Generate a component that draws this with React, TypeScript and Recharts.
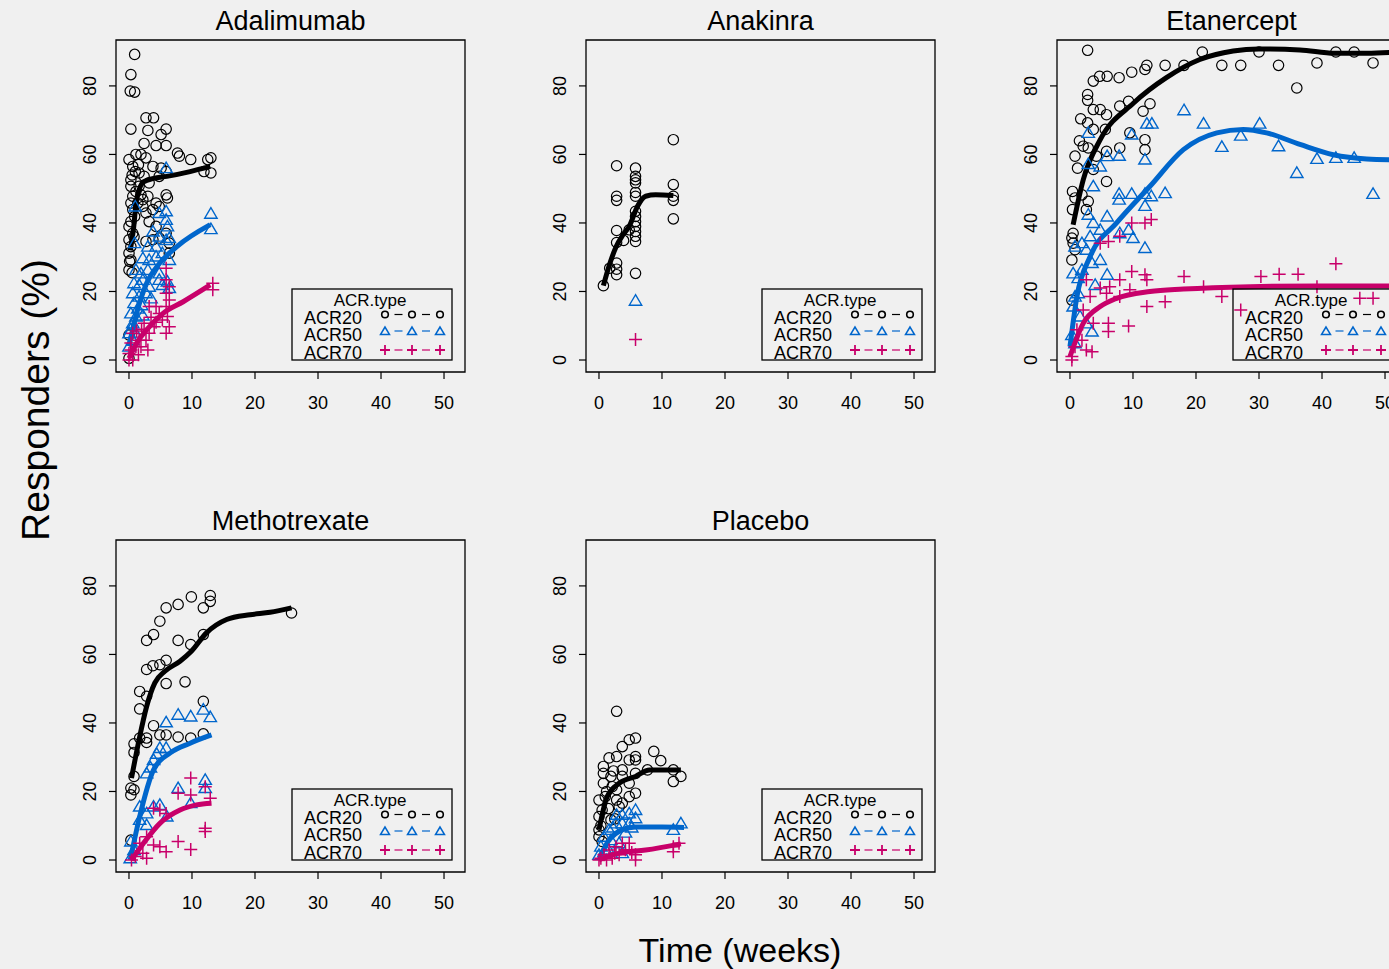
import React from "react";
import { ScatterChart, Scatter, XAxis, YAxis, ReferenceArea } from "recharts";

type Pt = [number, number];

const X_TICKS = [0, 10, 20, 30, 40, 50];
const Y_TICKS = [0, 20, 40, 60, 80];
const X_DOMAIN: [number, number] = [-2.06, 53.33];
const Y_DOMAIN: [number, number] = [-3.5, 93.4];
const SERIES_NAMES = ["ACR20", "ACR50", "ACR70"];

// ---- Adalimumab
const adaAcr20: Pt[] = [
  [0.9, 89.2], [0.3, 83.3], [0.2, 78.5], [0.9, 78.2], [0.3, 67.4], [2.7, 70.7], [3.9, 70.7],
  [3, 67], [5.1, 65.8], [5.9, 67.4], [2.4, 63.2], [4.3, 62.6], [5.9, 62.6], [7.7, 60.4],
  [8, 59.5], [9.8, 58.5], [12.5, 58.5], [13, 59], [11.9, 55], [13, 54.6], [5.9, 55], [5.1, 56],
  [3.8, 56.5], [4.8, 53.6], [5.9, 48.2], [6.1, 47.3], [4.3, 45.8], [4.8, 44.8], [3, 47.8],
  [2.2, 46.8], [1.4, 45.8], [0, 58.5], [1.1, 60], [1.9, 60], [2.7, 59], [0.6, 56.5], [1.6, 54.6],
  [2.4, 53.6], [3.2, 51.7], [0.3, 52.6], [0.3, 50.7], [1.1, 49.2], [0.6, 47.8], [0.3, 45.8],
  [0.6, 43.9], [0.9, 41.9], [0.3, 40.4], [0, 39], [0.6, 37], [0, 35.1], [0.3, 33.1], [0, 31.2],
  [0.3, 29.2], [0, 26.3], [0.1, 28.8], [1.6, 50.7], [1.9, 48.2], [2.2, 44.8], [2.7, 42.9],
  [3.8, 43.9], [3.2, 40.4], [4.3, 39], [2.7, 34.6], [3.8, 35.1], [4.8, 35.6], [5.9, 37],
  [6.4, 34.1], [6.4, 31.2], [0, 7.3], [0, 0.5], [1, 55], [0.5, 54], [1.5, 57], [0.8, 36], [0.5, 25.5],
];
const adaAcr50: Pt[] = [
  [5.9, 56], [13, 42.7], [13, 38.2], [1, 44.8], [0.9, 34.1], [4.8, 42.9], [5.9, 43.4], [5.9, 40.9],
  [6.1, 39], [3.8, 37.5], [4.8, 36], [5.9, 35], [6.4, 35.6], [3, 33.1], [4.3, 33.1], [2.2, 29.7],
  [3.2, 29.2], [4.3, 30.2], [5.3, 31.2], [6.4, 29.2], [1.1, 26.3], [1.9, 25.3], [3, 26.3],
  [4.8, 25.3], [0.8, 22.4], [1.6, 21.9], [2.2, 23.4], [3.2, 21.4], [4.8, 23.4], [5.3, 21.9],
  [6.1, 22.9], [6.4, 21], [0.6, 19.5], [0.8, 16.6], [1.6, 18.5], [2.7, 19.5], [0.3, 13.6],
  [0.6, 10.7], [1.1, 12.7], [0, 7.8], [0.6, 5.8], [0, 3.9], [1.4, 15], [2.2, 13], [0.3, 9],
  [1, 8], [2, 16], [3.5, 18],
];
const adaAcr70: Pt[] = [
  [13.3, 22.4], [13.3, 20.5], [5.9, 26.8], [5.9, 23.4], [6.4, 21.4], [5.9, 19.5], [6.4, 17.5],
  [5.9, 15.6], [6.1, 12.7], [6.4, 9.7], [5.9, 7.8], [3.2, 15.6], [4.3, 15.6], [4.8, 13.6],
  [5.3, 11.7], [4, 9.7], [3.2, 7.8], [2.4, 10.7], [2.7, 5.8], [0.6, 7.8], [1.1, 3.9], [1.6, 5.8],
  [0, 1.9], [0.6, 0], [0, 0], [0.3, 2.9], [1.9, 3.9], [3, 2.9], [1.2, 8.5], [2, 9], [0.3, 5],
  [1.5, 1.5], [4.3, 11], [3.5, 12.5],
];
const adaFit20: Pt[] = [[0.2, 32], [0.7, 38], [1.2, 46.8], [2.3, 52], [3.9, 53], [6, 53.6], [9.7, 55], [12.9, 56.5]];
const adaFit50: Pt[] = [[0, 4], [1.2, 13.6], [2.8, 22.4], [4.9, 28.3], [7.6, 33.1], [12.9, 39.5]];
const adaFit70: Pt[] = [[0, 0.5], [1.2, 4.9], [2.8, 8.8], [5.4, 13.6], [8.6, 17], [12.9, 21.9]];

// ---- Anakinra
const anaAcr20: Pt[] = [
  [0.7, 21.7], [1.7, 26.8], [2.8, 26.5], [2.8, 24.9], [2.8, 28.3], [2.8, 37.8], [2.8, 34.3],
  [3.9, 34.9], [2.8, 47.8], [2.8, 46.6], [2.8, 56.7], [5.8, 56], [5.8, 53.6], [5.8, 52.6],
  [5.8, 51.7], [5.8, 48.9], [5.8, 47.8], [5.8, 43.4], [5.8, 41.9], [5.8, 40.4], [5.8, 39],
  [5.8, 37.5], [5.8, 36.1], [5.8, 34.6], [4.8, 38], [5.8, 25.3], [11.8, 64.3], [11.8, 51.2],
  [11.8, 47.8], [11.8, 46.6], [11.8, 41.2],
];
const anaAcr50: Pt[] = [[5.8, 17.3]];
const anaAcr70: Pt[] = [[5.8, 6]];
const anaFit20: Pt[] = [[0.7, 21.7], [1.7, 28], [2.7, 33], [3.8, 36.5], [4.8, 39], [6.1, 44.8], [7.4, 47.8], [9, 48.2], [11.8, 48]];

// ---- Etanercept
const etaAcr20: Pt[] = [
  [2.8, 90.4], [21, 89.9], [30, 89.9], [42.2, 89.9], [45.1, 89.9], [15.1, 86], [18.1, 86], [24.1, 86],
  [27.1, 86], [33.1, 86], [39.2, 86.7], [48.1, 86.7], [36, 79.4], [12.2, 86], [11.9, 84.8],
  [9.8, 84], [7.8, 82.4], [5.9, 82.8], [4.7, 82.8], [3.7, 81.4], [2.8, 77.5], [2.8, 75.8],
  [3.7, 73.1], [4.8, 73.1], [7.9, 74.1], [9.3, 75.5], [11.6, 72.6], [12.7, 74.8], [5.8, 71.6],
  [1.7, 70.4], [2.8, 69.2], [3.7, 67.3], [5.6, 67.3], [9.5, 66.3], [11.9, 64.3], [11.9, 61.4],
  [7.9, 61.9], [0.8, 59.5], [2.1, 62.4], [2.9, 61.9], [4.2, 59.5], [5.8, 60.9], [5.8, 52.1],
  [3.7, 55.6], [0.4, 49.2], [0.8, 47.3], [1.9, 48.2], [2.9, 46.3], [0.4, 43.9], [2.6, 43.9],
  [0.3, 35.6], [0.5, 34.1], [0.8, 32.2], [0.3, 29.2], [0.5, 37], [0.3, 17.5], [1.2, 56], [1.5, 64],
];
const etaAcr50: Pt[] = [
  [18.1, 72.9], [21.2, 69], [30.1, 69], [24.1, 62.2], [27.1, 65.5], [33.1, 62.4], [36, 54.6],
  [39.2, 58.7], [42.2, 59], [45.1, 59], [48.1, 48.5], [12.2, 69], [13, 69], [9.8, 65.8],
  [11.9, 58.5], [7.8, 59.6], [2.9, 66.3], [2.9, 57.2], [4.8, 56.5], [5.9, 59.5], [3.7, 50.7],
  [7.8, 48.5], [9.8, 48.5], [11.9, 48.5], [15.1, 48.7], [12.9, 47.8], [7.8, 46.8], [11.9, 45],
  [2.9, 42.4], [3.7, 40], [5.9, 41.9], [4.8, 38], [7.9, 37], [9.3, 38], [10, 35.6], [11.9, 32.7],
  [0.8, 33.1], [1.9, 34.1], [2.6, 32.2], [3.2, 36.1], [0.5, 25.3], [1.3, 23.9], [1.9, 26.3],
  [3.5, 28.3], [4.8, 29.2], [5.9, 24.9], [0.8, 18.5], [1.3, 19.5], [0.5, 15.6], [1.6, 12.7],
  [2.6, 10.7], [3.5, 8.3], [0.3, 7.3], [0.8, 4.9], [4, 21.9],
];
const etaAcr70: Pt[] = [
  [42.2, 28.1], [30.3, 24.4], [33.2, 25], [36.2, 25], [18.1, 24.4], [21.2, 21.4], [24.1, 18.5],
  [27.1, 14.6], [46, 18], [48.1, 18], [39.2, 21.4], [9.8, 40], [11.9, 40], [12.9, 41], [7.9, 36.1],
  [6.1, 34.6], [4.8, 34.1], [9.8, 25.8], [11.9, 24.9], [12.2, 23.4], [7.9, 23.4], [6.3, 21.4],
  [4.8, 21], [15.1, 17], [12.2, 15.6], [9.5, 20.5], [7.9, 18.5], [5.8, 19.5], [3.2, 18.5],
  [9.3, 9.9], [6.1, 10.7], [6.1, 8.3], [3.7, 10.7], [2.1, 14.6], [2.6, 23.4], [0.8, 3.9],
  [1.9, 5.8], [2.6, 2.9], [3.5, 2.4], [0.3, 1], [1.1, 8.8], [0.3, 0],
];
const etaFit20: Pt[] = [
  [0.5, 39.5], [2.1, 52.6], [4.8, 64.3], [10.1, 75], [15.3, 82.4], [20.6, 87.7], [25.9, 90.2],
  [30, 90.8], [36.5, 90.5], [42, 89.5], [47.1, 89.5], [53, 90],
];
const etaFit50: Pt[] = [
  [0, 3.9], [1.1, 18.5], [3.2, 30.2], [7.4, 40], [12.7, 50.7], [18, 61.4], [23.3, 66.3],
  [27.5, 67.3], [31.2, 66.3], [36.5, 62.9], [41.8, 59.9], [47.1, 58.7], [53, 58.4],
];
const etaFit70: Pt[] = [
  [0, 1], [2.1, 10.7], [4.8, 15.6], [7.4, 18], [12.7, 20], [18, 20.7], [28.6, 21.4], [39.2, 21.6], [53, 21.6],
];

// ---- Methotrexate
const mtxAcr20: Pt[] = [
  [9.9, 76.8], [12.9, 77.2], [12.9, 75.5], [11.8, 73.6], [7.8, 74.6], [5.9, 73.6], [4.9, 69.7],
  [3.9, 65.8], [2.8, 64.1], [25.8, 72.1], [7.8, 64.1], [9.8, 62.9], [11.8, 65.8], [2.8, 55.6],
  [3.8, 56.7], [4.9, 57], [5.9, 58.3], [5.9, 51.5], [8.9, 52], [1.7, 49.2], [2.8, 47.8],
  [1.7, 44.1], [11.8, 46.3], [3.9, 39.2], [4.9, 36.5], [5.9, 36.5], [7.8, 35.9], [9.8, 35.6],
  [11.8, 36.8], [1.7, 35.6], [2.8, 35.6], [2.8, 34.3], [0.8, 33.9], [0.8, 31.4], [0.8, 24.4],
  [0.3, 21], [0.8, 20.5], [0.3, 19], [0.3, 5.8],
];
const mtxAcr50: Pt[] = [
  [7.8, 42.4], [9.8, 41.9], [11.8, 43.9], [12.9, 41.7], [5.9, 40.2], [4.9, 32.7], [5.9, 32.7],
  [3.9, 29.2], [2.8, 25.3], [3.9, 15.6], [4.9, 16.1], [6, 12.7], [2.8, 13.6], [1.7, 15.6],
  [1.7, 11.7], [2.8, 10.2], [7.8, 21], [9.8, 16.6], [12.1, 23.4], [12.1, 21], [0.3, 5.4],
  [0.8, 2.9], [0.2, 0.5], [3.4, 27], [4.4, 31],
];
const mtxAcr70: Pt[] = [
  [9.8, 23.9], [7.8, 19.5], [9.8, 19], [12.1, 21.4], [12.9, 18], [3.9, 15.1], [4.9, 14.6],
  [5.9, 13.6], [12.1, 9.3], [12.1, 8.3], [7.8, 5.4], [9.8, 3.1], [5.9, 2.4], [4.9, 3.9],
  [3.9, 4.4], [1.7, 4.9], [2.8, 6.8], [2.8, 0.5], [1, 1], [0.4, 0], [2.2, 2],
];
const mtxFit20: Pt[] = [
  [0.4, 23.9], [1.7, 36], [2.8, 44.8], [4.1, 51.7], [5.7, 55.1], [8.1, 58], [9.9, 60.9],
  [12.3, 66.3], [15.5, 70.2], [19.2, 71.6], [22.4, 72.3], [25.8, 73.6],
];
const mtxFit50: Pt[] = [[0.2, 0], [1.7, 12.7], [3.9, 26.3], [6.5, 31.2], [9.7, 34.1], [13.1, 36.5]];
const mtxFit70: Pt[] = [[0.4, 0], [2.3, 4.9], [4.9, 10.7], [8.1, 14.6], [10.7, 16.1], [13.1, 16.6]];

// ---- Placebo
const pboAcr20: Pt[] = [
  [2.8, 43.4], [4.8, 35.1], [5.8, 35.6], [3.7, 33.1], [2.8, 30.2], [1.6, 29.8], [8.7, 31.7],
  [9.8, 29], [7.7, 26.3], [11.8, 26.3], [13, 24.4], [11.8, 22.9], [5.8, 30.2], [5.8, 29.2],
  [4.8, 29.2], [3.7, 26.3], [5.8, 25.3], [4.8, 22.4], [3.7, 24.4], [5.8, 19.5], [4.8, 18.5],
  [3.7, 16.6], [2.8, 20.5], [0.7, 27.3], [0.7, 25.3], [0.7, 22.4], [1, 18.5], [0, 17.5],
  [0.5, 14.6], [0, 12.7], [0, 8.8], [0, 6.8], [0.5, 5.4], [1.9, 24.4], [2.1, 21.4], [2.8, 17.5],
  [3.2, 15.6], [1.9, 11.7], [1.2, 20], [2.3, 26], [1.5, 15], [0.3, 10], [2.5, 12],
];
const pboAcr50: Pt[] = [
  [13, 10.7], [11.8, 8.8], [2.8, 13.2], [3.7, 13.2], [4.8, 13.6], [5.8, 14.6], [5.8, 12.2],
  [4.8, 10.7], [3.7, 10.7], [2.7, 10.7], [1.6, 8.8], [0.8, 6.8], [0.3, 3.9], [0, 1.5],
  [1.9, 5.8], [3.2, 4.9], [1.1, 2.9], [3.7, 2], [2.2, 9.5], [4.2, 8], [5.2, 9.5], [1.5, 3],
];
const pboAcr70: Pt[] = [
  [12.7, 4.9], [11.8, 3.9], [11.8, 2.4], [5.8, 1.5], [5.8, 0], [4.8, 4.9], [3.7, 4.9], [2.7, 3.9],
  [1.6, 2.9], [0.8, 1.5], [0.3, 0.5], [2.1, 0.5], [3.2, 1.5], [4.2, 3], [5.2, 2.2], [1.2, 0],
  [2.5, 2], [0, 0],
];
const pboFit20: Pt[] = [[0, 8.8], [1.3, 18.5], [3.2, 22.4], [5.8, 24.4], [8, 26.3], [13, 26.3]];
const pboFit50: Pt[] = [[0, 0.5], [1.6, 5.8], [3.7, 8.8], [5.8, 9.6], [10, 9.6], [13.5, 9.5]];
const pboFit70: Pt[] = [[0, 0], [3.2, 2], [7.4, 2.9], [13, 4.7]];

const BLUE = "#0066cc";
const PINK = "#c8006a";
const COLORS = ["#000000", BLUE, PINK];
const FONT = '"Liberation Sans", Arial, Helvetica, sans-serif';

// plot box geometry (page px)
const ML = 80;
const MT = 40;
const PW = 349;
const PH = 332;
const CHART_W = ML + PW + 10;
const CHART_H = MT + PH + 60;

const toXY = (a: Pt[]) => a.map(([x, y]) => ({ x, y }));

const CircleMark = (p: any) => (
  <circle cx={p.cx} cy={p.cy} r={5.2} fill="none" stroke="#000" strokeWidth={1.2} />
);
const TriMark = (p: any) => (
  <polygon
    points={`${p.cx},${p.cy - 6} ${p.cx - 6.2},${p.cy + 4.5} ${p.cx + 6.2},${p.cy + 4.5}`}
    fill="none"
    stroke={BLUE}
    strokeWidth={1.4}
  />
);
const PlusMark = (p: any) => (
  <path
    d={`M${p.cx - 6.5},${p.cy}H${p.cx + 6.5}M${p.cx},${p.cy - 6.5}V${p.cy + 6.5}`}
    stroke={PINK}
    strokeWidth={1.5}
  />
);
const SHAPES = [CircleMark, TriMark, PlusMark];
const NoMark = () => <g />;

const XTick = (p: any) => (
  <text x={p.x} y={MT + PH + 31} textAnchor="middle" dominantBaseline="central" fontSize={18} fontFamily={FONT} fill="#000">
    {p.payload.value}
  </text>
);
const YTick = (p: any) => {
  const x0 = ML - 26;
  return (
    <text
      x={x0}
      y={p.y}
      transform={`rotate(-90, ${x0}, ${p.y})`}
      textAnchor="middle"
      dominantBaseline="central"
      fontSize={18}
      fontFamily={FONT}
      fill="#000"
    >
      {p.payload.value}
    </text>
  );
};

function LegendBox({ left, top }: { left: number; top: number }) {
  const symX = [93, 120, 148];
  const symY = [25.5, 42, 61];
  const textY = [29, 46, 64];
  return (
    <svg
      width={160}
      height={71}
      style={{ position: "absolute", left, top, overflow: "visible" }}
    >
      <text x={78} y={11} textAnchor="middle" dominantBaseline="central" fontSize={17} fontFamily={FONT}>
        ACR.type
      </text>
      {SERIES_NAMES.map((name, i) => (
        <g key={name}>
          <text x={12} y={textY[i]} dominantBaseline="central" fontSize={18} fontFamily={FONT}>
            {name}
          </text>
          {[0, 1].map((k) => {
            const mx = (symX[k] + symX[k + 1]) / 2;
            return (
              <line key={k} x1={mx - 4} x2={mx + 4} y1={symY[i]} y2={symY[i]} stroke={COLORS[i]} strokeWidth={1.2} />
            );
          })}
          {symX.map((sx) =>
            i === 0 ? (
              <circle key={sx} cx={sx} cy={symY[i]} r={3.3} fill="none" stroke="#000" strokeWidth={1.6} />
            ) : i === 1 ? (
              <polygon key={sx} points={`${sx},${symY[i] - 4} ${sx - 4.5},${symY[i] + 3.5} ${sx + 4.5},${symY[i] + 3.5}`} fill="none" stroke={BLUE} strokeWidth={1.5} />
            ) : (
              <path key={sx} d={`M${sx - 5},${symY[i]}H${sx + 5}M${sx},${symY[i] - 5}V${symY[i] + 5}`} stroke={PINK} strokeWidth={1.8} />
            )
          )}
        </g>
      ))}
      <rect x={0} y={0} width={160} height={71} fill="none" stroke="#000" strokeWidth={1.3} />
    </svg>
  );
}

interface PanelProps {
  title: string;
  left: number;
  top: number;
  points: Pt[][];
  fits: Pt[][];
}

function Panel({ title, left, top, points, fits }: PanelProps) {
  return (
    <>
      <div style={{ position: "absolute", left: left - ML, top: top - MT }}>
        <ScatterChart width={CHART_W} height={CHART_H} margin={{ top: MT, right: 10, bottom: 20, left: 20 }}>
          <XAxis
            type="number"
            dataKey="x"
            domain={X_DOMAIN}
            ticks={X_TICKS}
            interval={0}
            allowDataOverflow
            axisLine={false}
            tickLine={{ stroke: "#000", strokeWidth: 1.2 }}
            tickSize={7}
            height={40}
            tick={XTick}
          />
          <YAxis
            type="number"
            dataKey="y"
            domain={Y_DOMAIN}
            ticks={Y_TICKS}
            interval={0}
            allowDataOverflow
            axisLine={false}
            tickLine={{ stroke: "#000", strokeWidth: 1.2 }}
            tickSize={7}
            width={60}
            tick={YTick}
          />
          <ReferenceArea
            x1={X_DOMAIN[0]}
            x2={X_DOMAIN[1]}
            y1={Y_DOMAIN[0]}
            y2={Y_DOMAIN[1]}
            fill="none"
            stroke="#000"
            strokeWidth={1.3}
          />
          {[0, 1, 2].map((i) => [
            <Scatter
              key={`p${i}`}
              data={toXY(points[i])}
              shape={SHAPES[i]}
              isAnimationActive={false}
            />,
            fits[i].length > 0 ? (
              <Scatter
                key={`f${i}`}
                data={toXY(fits[i])}
                shape={NoMark}
                line={{ stroke: COLORS[i], strokeWidth: 5 }}
                lineJointType="monotoneX"
                isAnimationActive={false}
              />
            ) : null,
          ])}
        </ScatterChart>
      </div>
      <div
        style={{
          position: "absolute",
          left: left + PW / 2,
          top: top - 19,
          transform: "translate(-50%, -50%)",
          fontSize: 27,
          whiteSpace: "nowrap",
        }}
      >
        {title}
      </div>
      <LegendBox left={left + 176} top={top + 249} />
    </>
  );
}

export default function App() {
  return (
    <div
      style={{
        position: "absolute",
        left: 0,
        top: 0,
        width: 1389,
        height: 969,
        overflow: "hidden",
        background: "#f0f0f0",
        fontFamily: FONT,
        color: "#000",
      }}
    >
      <Panel title="Adalimumab" left={116} top={40} points={[adaAcr20, adaAcr50, adaAcr70]} fits={[adaFit20, adaFit50, adaFit70]} />
      <Panel title="Anakinra" left={586} top={40} points={[anaAcr20, anaAcr50, anaAcr70]} fits={[anaFit20, [], []]} />
      <Panel title="Etanercept" left={1057} top={40} points={[etaAcr20, etaAcr50, etaAcr70]} fits={[etaFit20, etaFit50, etaFit70]} />
      <Panel title="Methotrexate" left={116} top={540} points={[mtxAcr20, mtxAcr50, mtxAcr70]} fits={[mtxFit20, mtxFit50, mtxFit70]} />
      <Panel title="Placebo" left={586} top={540} points={[pboAcr20, pboAcr50, pboAcr70]} fits={[pboFit20, pboFit50, pboFit70]} />
      <div
        style={{
          position: "absolute",
          left: 36,
          top: 400,
          transform: "translate(-50%, -50%) rotate(-90deg)",
          fontSize: 39,
          whiteSpace: "nowrap",
        }}
      >
        Responders (%)
      </div>
      <div
        style={{
          position: "absolute",
          left: 740,
          top: 950,
          transform: "translate(-50%, -50%)",
          fontSize: 34,
          whiteSpace: "nowrap",
        }}
      >
        Time (weeks)
      </div>
    </div>
  );
}
